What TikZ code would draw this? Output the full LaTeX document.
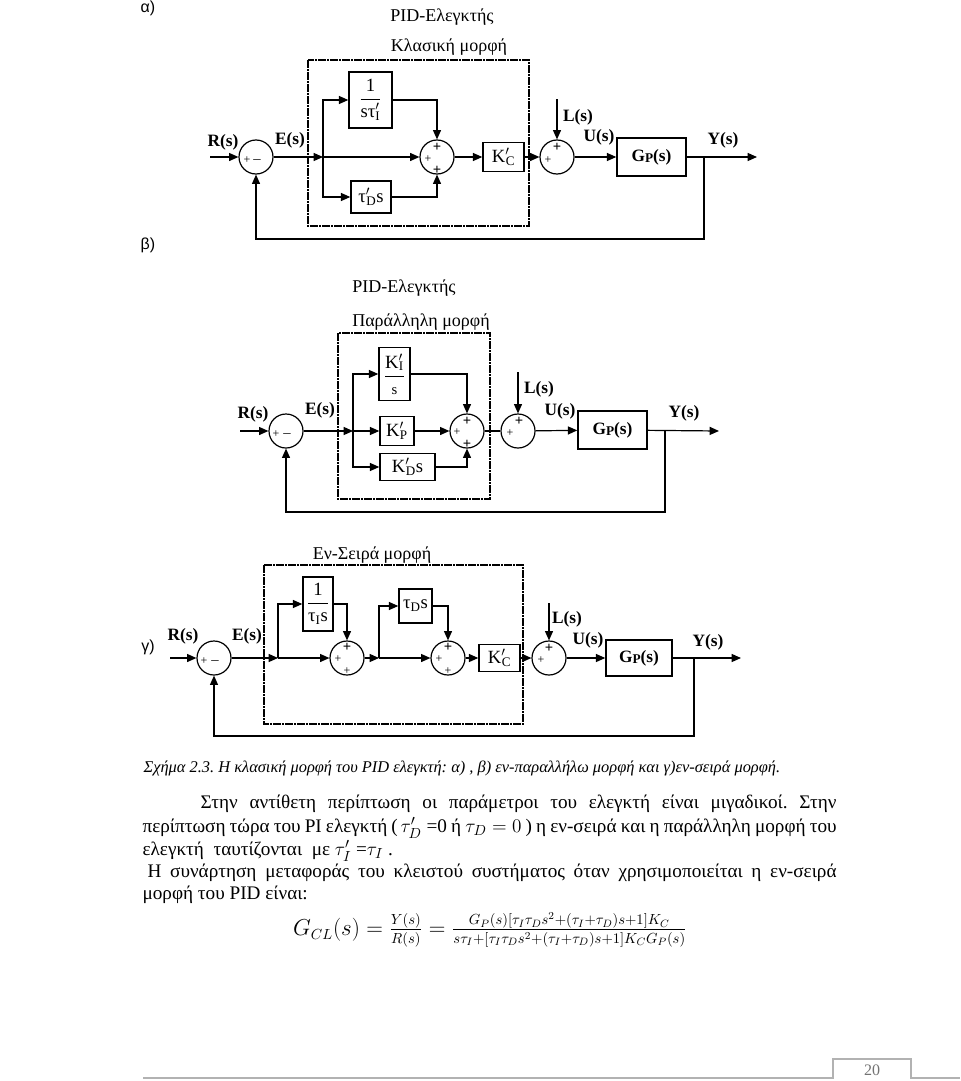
\documentclass[tikz,border=0pt]{standalone}
\usepackage{amsmath}
\usepackage{fontspec}
\setmainfont{Liberation Serif}
\newfontfamily\sansf{Liberation Sans}
\usetikzlibrary{arrows.meta,calc}
\frenchspacing
\newdimen\pxu \pxu=0.75pt
\newcommand\kpr[2]{#1\rlap{$'$}\textsubscript{\kern0.3pt#2}}
\newcommand\ksb[2]{#1\textsubscript{#2}}
\newcommand\gp{G\raisebox{-1pt}{\fontsize{10}{10}\selectfont P}(s)}
\newcommand\mth{\fontsize{15.5}{17}\selectfont}
\newcommand\txs{\fontsize{14.4}{17}\selectfont}
\tikzset{
 sig/.style={-{Triangle[length=7pt,width=6pt]}},
 blk/.style={draw, line width=1.1pt, inner sep=0pt, font=\fontsize{14}{15}\selectfont},
 sumc/.style={draw, circle, minimum size=34\pxu, inner sep=0pt, line width=0.9pt},
 lbl/.style={font=\fontsize{13}{14}\selectfont\bfseries, inner sep=0pt},
 ttl/.style={font=\fontsize{13.5}{15}\selectfont, inner sep=0pt},
 pidframe/.style={draw, line width=1.3pt, dash pattern=on 6pt off 1pt on 1pt off 1pt},
 pl/.style={font=\fontsize{9}{9}\selectfont, inner sep=0pt},
 plb/.style={font=\fontsize{11}{11}\selectfont\bfseries, inner sep=0pt},
 mn/.style={font=\fontsize{11}{11}\selectfont, inner sep=0pt},
 sec/.style={font=\sansf\fontsize{12}{14}\selectfont, inner sep=0pt},
 txt/.style={font=\txs, inner sep=0pt, anchor=base west},
}
\begin{document}
\begin{tikzpicture}[x=0.75pt,y=-0.75pt,line width=0.9pt]
\useasboundingbox (0,0) rectangle (960,1081);
\fill[white] (0,0) rectangle (960,1081);

% ================= alpha =================
\node[sec] (la) at (148,8) {α)};
\node[ttl] (at1) at (442,17) {PID-Ελεγκτής};
\node[ttl] (at2) at (449,47) {Κλασική μορφή};
\draw[pidframe] (308,60) rectangle (529,226);

\node[sumc] (a1) at (256,157) {};
\node[pl] (a1p) at (247,160) {+};
\node[mn] (a1m) at (257,162) {–};
\coordinate (ain) at (210,157);
\draw[sig] (ain) -- (a1);
\node[lbl] (aR) at (223,142) {R(s)};
\node[lbl] (aE) at (290,140) {E(s)};
\coordinate (aB) at (323,157);
\draw[sig] (a1) -- (aB);
\node[blk, minimum width=43\pxu, minimum height=56\pxu] (aI) at (370.5,100)
  {$\displaystyle\frac{\mbox{1}}{\mbox{sτ\rlap{$'$}\textsubscript{I}}}$};
\node[blk, minimum width=40\pxu, minimum height=32\pxu] (aD) at (371,197) {\kpr{τ}{D}s};
\draw[sig] (aB) |- (aI.west);
\draw[sig] (aB) |- (aD.west);
\node[sumc] (a2) at (437,157) {};
\node[plb] (a2t) at (437,147) {+};
\node[pl] (a2l) at (428,159) {+};
\node[plb] (a2b) at (437,170) {+};
\draw[sig] (aI.east) -| (a2.north);
\draw[sig] (aD.east) -| (a2.south);
\draw[sig] (aB) -- (a2.west);
\node[blk, minimum width=41\pxu, minimum height=29\pxu] (aK) at (503.5,157) {\kpr{K}{C}};
\draw[sig] (a2) -- (aK);
\node[sumc] (a3) at (557,157) {};
\node[plb] (a3t) at (557,147) {+};
\node[pl] (a3l) at (548,160) {+};
\draw[sig] (aK) -- (a3);
\coordinate (aL) at (557,99);
\draw[sig] (aL) -- (a3);
\node[lbl] (aLt) at (578,117) {L(s)};
\node[lbl] (aU) at (599,137) {U(s)};
\node[blk, font=\fontsize{13}{14}\selectfont\bfseries, minimum width=69\pxu, minimum height=38\pxu] (aG) at (651.5,157) {\gp};
\draw[sig] (a3) -- (aG);
\coordinate (aY) at (757,157);
\coordinate (aT) at (704,157);
\coordinate (aF) at (704,239);
\draw[sig] (aG) -- (aY);
\node[lbl] (aYt) at (723,140) {Y(s)};
\draw[sig] (aT) -- (aF) -| (a1.south);

% ================= beta =================
\node[sec] (lb) at (148,245) {β)};
\node[ttl] (bt1) at (404,288) {PID-Ελεγκτής};
\node[ttl] (bt2) at (421,322) {Παράλληλη μορφή};
\draw[pidframe] (338,333) rectangle (490,499);

\node[sumc] (b1) at (286,431) {};
\node[pl] (b1p) at (276,434) {+};
\node[mn] (b1m) at (287,436) {–};
\coordinate (bin) at (240,431);
\draw[sig] (bin) -- (b1);
\node[lbl] (bR) at (253,414) {R(s)};
\node[lbl] (bE) at (320,410) {E(s)};
\coordinate (bB) at (353,431);
\draw[sig] (b1) -- (bB);
\node[blk, minimum width=31\pxu, minimum height=53\pxu] (bI) at (394.5,374)
  {$\displaystyle\frac{\mbox{\kpr{K}{I}}}{\mbox{\fontsize{11}{12}\selectfont s}}$};
\node[blk, minimum width=34\pxu, minimum height=29\pxu] (bP) at (397,431) {\kpr{K}{P}};
\node[blk, minimum width=55\pxu, minimum height=27\pxu] (bD) at (407.5,467) {\kpr{K}{D}s};
\draw[sig] (bB) |- (bI.west);
\draw[sig] (bB) -- (bP.west);
\draw[sig] (bB) |- (bD.west);
\node[sumc] (b2) at (467,431) {};
\node[plb] (b2t) at (467,421) {+};
\node[pl] (b2l) at (457,432) {+};
\node[plb] (b2b) at (467,444) {+};
\draw[sig] (bI.east) -| (b2.north);
\draw[sig] (bP) -- (b2.west);
\draw[sig] (bD.east) -| (b2.south);
\node[sumc] (b3) at (518,431) {};
\node[plb] (b3t) at (519,421) {+};
\node[pl] (b3l) at (510,433) {+};
\draw (b2) -- (b3);
\coordinate (bL) at (518,372);
\draw[sig] (bL) -- (b3);
\node[lbl] (bLt) at (539,389) {L(s)};
\node[lbl] (bU) at (560,411) {U(s)};
\node[blk, font=\fontsize{13}{14}\selectfont\bfseries, minimum width=69\pxu, minimum height=38\pxu] (bG) at (612.5,430) {\gp};
\draw[sig] (b3) -- (bG);
\coordinate (bY) at (719,431);
\coordinate (bT) at (665,431);
\coordinate (bF) at (665,512);
\draw[sig] (bG) -- (bY);
\node[lbl] (bYt) at (684,413) {Y(s)};
\draw[sig] (bT) -- (bF) -| (b1.south);

% ================= gamma =================
\node[sec] (lc) at (148,647) {γ)};
\node[ttl] (ct1) at (372,555) {Εν-Σειρά μορφή};
\draw[pidframe] (264,565) rectangle (523,724);

\node[sumc] (c1) at (214,658) {};
\node[pl] (c1p) at (204,661) {+};
\node[mn] (c1m) at (215,663) {–};
\coordinate (cin) at (170,658);
\draw[sig] (cin) -- (c1);
\node[lbl] (cR) at (183,636) {R(s)};
\node[lbl] (cE) at (247,636) {E(s)};
\coordinate (cB) at (278,658);
\draw[sig] (c1) -- (cB);
\node[blk, minimum width=30\pxu, minimum height=54\pxu] (cI) at (318,604)
  {$\displaystyle\frac{\mbox{1}}{\mbox{\ksb{τ}{I}s}}$};
\node[sumc] (c2) at (347,658) {};
\node[plb] (c2t) at (347,647) {+};
\node[pl] (c2l) at (338,659) {+};
\node[pl] (c2b) at (347,671) {+};
\draw[sig] (cB) |- (cI.west);
\draw[sig] (cI.east) -| (c2.north);
\draw[sig] (cB) -- (c2.west);
\coordinate (cB2) at (379,658);
\draw[sig] (c2) -- (cB2);
\node[blk, minimum width=33\pxu, minimum height=34\pxu] (cD) at (415.5,606) {\ksb{τ}{D}s};
\node[sumc] (c3) at (448,658) {};
\node[plb] (c3t) at (448,647) {+};
\node[pl] (c3l) at (439,659) {+};
\node[pl] (c3b) at (448,671) {+};
\draw[sig] (cB2) |- (cD.west);
\draw[sig] (cD.east) -| (c3.north);
\draw[sig] (cB2) -- (c3.west);
\node[blk, minimum width=41\pxu, minimum height=27\pxu] (cK) at (499.5,658) {\kpr{K}{C}};
\draw[sig] (c3) -- (cK);
\node[sumc] (c4) at (549,658) {};
\node[plb] (c4t) at (549,648) {+};
\node[pl] (c4l) at (541,660) {+};
\draw[sig] (cK) -- (c4);
\coordinate (cL) at (549,603);
\draw[sig] (cL) -- (c4);
\node[lbl] (cLt) at (567,619) {L(s)};
\node[lbl] (cU) at (588,640) {U(s)};
\node[blk, font=\fontsize{13}{14}\selectfont\bfseries, minimum width=66\pxu, minimum height=36\pxu] (cG) at (639,658) {\gp};
\draw[sig] (c4) -- (cG);
\coordinate (cY) at (741,658);
\coordinate (cT) at (694,658);
\coordinate (cF) at (694,736);
\draw[sig] (cG) -- (cY);
\node[lbl] (cYt) at (708,642) {Y(s)};
\draw[sig] (cT) -- (cF) -| (c1.south);

% ================= text =================
\node[txt, font=\fontsize{12.3}{14}\selectfont\itshape] (cap) at (143,772)
  {Σχήμα 2.3. Η κλασική μορφή του PID ελεγκτή: α) , β) εν-παραλλήλω μορφή και γ)εν-σειρά μορφή.};
\node[txt] (p1) at (200,808) {\makebox[477pt][s]{Στην αντίθετη περίπτωση οι παράμετροι του ελεγκτή είναι μιγαδικοί. Στην}};
\node[txt] (p2) at (142,832) {\makebox[520.5pt][s]{περίπτωση τώρα του PI ελεγκτή (\kern2pt\smash{\mbox{\mth$\tau'_D$\txs\ =0}} ή \smash{\mbox{\mth$\tau_D = 0$}} ) η εν-σειρά και η παράλληλη μορφή του}};
\node[txt] (p3) at (142,855) {ελεγκτή\ \ ταυτίζονται\ \ με \smash{\mbox{\mth$\tau'_I$\txs\ =\mth$\tau_I$}} .};
\node[txt] (p4) at (147,877) {\makebox[516.75pt][s]{Η συνάρτηση μεταφοράς του κλειστού συστήματος όταν χρησιμοποιείται η εν-σειρά}};
\node[txt] (p5) at (142,899) {μορφή του PID είναι:};
\node[inner sep=0pt, font=\fontsize{16}{18}\selectfont] (eq) at (490,930)
  {$G_{CL}(s)=\frac{Y(s)}{R(s)}=\frac{G_P(s)[\tau_I\tau_D s^2+(\tau_I+\tau_D)s+1]K_C}{s\tau_I+[\tau_I\tau_D s^2+(\tau_I+\tau_D)s+1]K_C G_P(s)}$};

% ================= footer =================
\draw[black!30, line width=0.8pt] (143,1078) -- (833,1078) -- (833,1059) -- (911,1059) -- (911,1078) -- (960,1078);
\node[inner sep=0pt, text=black!55, font=\fontsize{12}{14}\selectfont] (pg) at (872,1070) {20};
\end{tikzpicture}
\end{document}
